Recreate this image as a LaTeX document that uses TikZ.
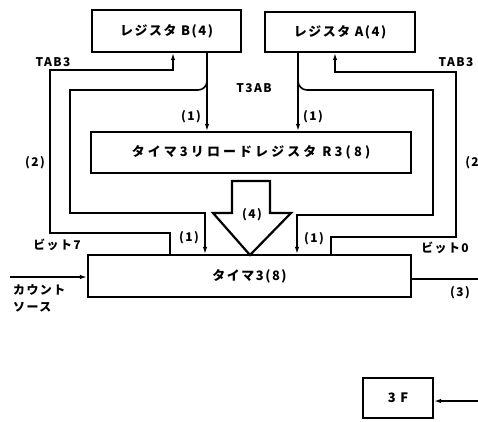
\documentclass[tikz,border=0pt]{standalone}
\usepackage{fontspec}
\newfontfamily\jp[LetterSpace=12]{Noto Sans CJK JP}
\usetikzlibrary{arrows.meta}
\begin{document}
\begin{tikzpicture}[x=1bp,y=-1bp,line join=miter,
  box/.style={draw,line width=2.2bp,inner sep=0pt},
  conn/.style={line width=1.6bp},
  tip/.style={-{Latex[length=7bp,width=4.5bp]}},
  lbl/.style={font=\jp\bfseries\fontsize{13}{15}\selectfont,inner sep=0pt},
  slbl/.style={font=\jp\bfseries\fontsize{12}{14}\selectfont,inner sep=0pt}]
\useasboundingbox (0,0) rectangle (478,421);
% boxes
\node[box,lbl,minimum width=149bp,minimum height=42bp] (regB) at (166.5,31) {レジスタ B(4)};
\node[box,lbl,minimum width=150bp,minimum height=40bp] (regA) at (340,32) {レジスタ A(4)};
\node[box,lbl,minimum width=320bp,minimum height=41bp] (R3) at (251,152.5) {\addfontfeature{LetterSpace=24}タイマ3リロードレジスタ R3(8)};
\node[box,lbl,minimum width=323bp,minimum height=42bp] (timer) at (249.5,276) {タイマ3(8)};
\node[box,lbl,minimum width=70bp,minimum height=40bp] (f3) at (398,398) {3 F};
% x positions
\coordinate (xBo) at (207,0);
\coordinate (xAo) at (298,0);
\coordinate (xBi) at (173,0);
\coordinate (xAi) at (335,0);
\coordinate (xTL) at (205,0);
\coordinate (xTR) at (297,0);
\coordinate (xT7) at (170,0);
\coordinate (xT0) at (331,0);
% register outputs to R3
\draw[conn,tip] (regB.south -| xBo) -- (R3.north -| xBo);
\draw[conn,tip] (regA.south -| xAo) -- (R3.north -| xAo);
% inner paths (1) to timer
\draw[conn,tip] (207,81) to[out=-90,in=0] (198,90) -- (70,90) -- (70,213) -- (205,213) -- (timer.north -| xTL);
\draw[conn,tip] (298,81) to[out=-90,in=180] (307,90) -- (433,90) -- (433,215) -- (297,215) -- (timer.north -| xTR);
% outer paths (2) TAB3
\draw[conn,tip] (timer.north -| xT7) -- (170,233) -- (50,233) -- (50,70) -- (173,70) -- (regB.south -| xBi);
\draw[conn,tip] (timer.north -| xT0) -- (331,237) -- (456,237) -- (456,72) -- (335,72) -- (regA.south -| xAi);
% big arrow (4)
\draw[line width=2.2bp] (232,181) -- (270,181) -- (270,213) -- (291,213) -- (250,255) -- (213,213) -- (232,213) -- cycle;
% count source
\coordinate (cs) at (10,277);
\draw[conn,tip] (cs) -- (timer.west |- cs);
% output (3)
\coordinate (out) at (478,279);
\draw[conn] (timer.east |- out) -- (out);
% 3F input
\coordinate (fin) at (478,401);
\draw[conn,tip] (fin) -- (f3.east |- fin);
% labels
\node[slbl] (tab3l) at (53,62) {TAB3};
\node[slbl] (tab3r) at (456,62) {TAB3};
\node[slbl] (t3ab) at (254,88) {T3AB};
\node[slbl] (n1a) at (191,117) {(1)};
\node[slbl] (n1b) at (313,117) {(1)};
\node[slbl] (n2l) at (35,163) {(2)};
\node[slbl] (n2r) at (472,163) {(2};
\node[slbl] (n1c) at (189,238) {(1)};
\node[slbl] (n1d) at (314,239) {(1)};
\node[slbl] (n4) at (252,215) {(4)};
\node[slbl] (b7) at (57,245) {ビット7};
\node[slbl] (b0) at (445,248) {ビット0};
\node[slbl,anchor=west] (cnt) at (13,290) {カウント};
\node[slbl,anchor=west] (src) at (13,307) {ソース};
\node[slbl] (n3) at (460,293) {(3)};
\end{tikzpicture}
\end{document}
